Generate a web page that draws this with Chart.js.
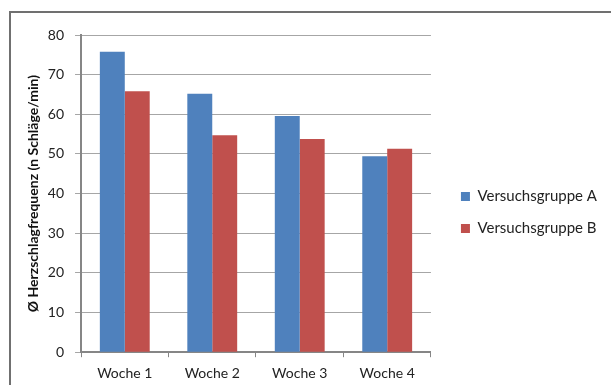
<!DOCTYPE html>
<html>
<head>
<meta charset="utf-8">
<script src="https://cdn.jsdelivr.net/npm/chart.js@4/dist/chart.umd.min.js"></script>
<style>
  html, body { margin: 0; padding: 0; background: #fff; width: 611px; height: 385px; overflow: hidden; }
  #frame {
    position: absolute; left: 9px; top: 11px;
    width: 602px; height: 374px;
    box-sizing: border-box;
    border-left: 2px solid #707070;
    border-top: 2px solid #707070;
  }
  #wrap { position: absolute; left: 11px; top: 13px; width: 600px; height: 377px; }
</style>
</head>
<body>
<div id="frame"></div>
<div id="wrap"><canvas id="herzChart"></canvas></div>
<script>
// Daten
var wochen = ['Woche 1', 'Woche 2', 'Woche 3', 'Woche 4'];
var gruppeA = [75.8, 65.2, 59.6, 49.4];
var gruppeB = [65.8, 54.7, 53.8, 51.3];
var serienNamen = ['Versuchsgruppe A', 'Versuchsgruppe B'];
var yTitel = 'Ø Herzschlagfrequenz (n Schläge/min)';

var schrift = 'Lato, "Open Sans", sans-serif';
var legendeExtra = 13; // Abstand zwischen Diagramm und Legende

// Legende etwas breiter machen und nach rechts schieben
var legendeAbstand = {
    id: 'legendeAbstand',
    beforeLayout: function (chart) {
        var lg = chart.legend;
        if (lg && !lg._abstand) {
            var fitOrig = lg.fit;
            lg.fit = function () {
                fitOrig.call(this);
                this.width += legendeExtra;
            };
            lg._abstand = true;
        }
    },
    afterLayout: function (chart) {
        if (chart.legend) chart.legend.left += legendeExtra;
    }
};

function drawChart(canvas_id) {
    var ctx = document.getElementById(canvas_id).getContext('2d');
    var myChart = new Chart(ctx, {
        type: 'bar',
        data: {
            labels: wochen,
            datasets: [
                { label: serienNamen[0], data: gruppeA, backgroundColor: '#4F81BD' },
                { label: serienNamen[1], data: gruppeB, backgroundColor: '#C0504D' }
            ]
        },
        options: {
            responsive: true,
            maintainAspectRatio: false,
            animation: false,
            categoryPercentage: 0.57,
            barPercentage: 1.0,
            layout: { padding: { top: 22, left: 11, right: 4, bottom: 0 } },
            plugins: {
                tooltip: { enabled: false },
                legend: {
                    position: 'right',
                    align: 'center',
                    maxWidth: 300,
                    labels: {
                        boxWidth: 9,
                        boxHeight: 9,
                        padding: 17,
                        color: '#222',
                        font: { family: schrift, size: 15 }
                    }
                }
            },
            scales: {
                x: {
                    grid: {
                        display: true,
                        drawOnChartArea: false,
                        drawTicks: true,
                        tickLength: 5,
                        color: '#868686',
                        offset: true
                    },
                    border: { color: '#868686', width: 2 },
                    ticks: { color: '#222', font: { family: schrift, size: 14 }, padding: 8 }
                },
                y: {
                    min: 0,
                    max: 80,
                    ticks: { stepSize: 10, color: '#222', font: { family: schrift, size: 14 }, padding: 11 },
                    grid: { color: '#a6a6a6', lineWidth: 1, tickLength: 6 },
                    border: { color: '#868686', width: 2 },
                    title: {
                        display: true,
                        text: yTitel,
                        color: '#111',
                        font: { family: schrift, size: 14, weight: 'bold' },
                        padding: { top: 3, bottom: -5 }
                    }
                }
            }
        },
        plugins: [legendeAbstand]
    });
    return myChart;
}

// erst zeichnen, wenn die Schrift bereit ist
var gestartet = false;
function starten() {
    if (gestartet) return;
    gestartet = true;
    drawChart('herzChart');
}
Promise.all([
    document.fonts.load('14px Lato'),
    document.fonts.load('15px Lato'),
    document.fonts.load('bold 14px Lato')
]).then(starten, starten);
setTimeout(starten, 1500);
</script>
</body>
</html>
